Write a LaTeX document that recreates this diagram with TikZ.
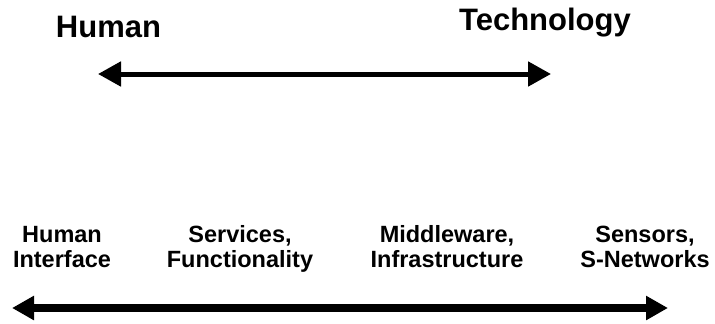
\documentclass[tikz,border=0pt]{standalone}
\usepackage{fontspec}
\setmainfont{Liberation Sans}
\usetikzlibrary{arrows.meta}
\begin{document}
\begin{tikzpicture}[x=1pt,y=-1pt,
  biglabel/.style={font=\fontsize{31}{34}\selectfont\bfseries, inner sep=0pt, anchor=base},
  smalllabel/.style={font=\fontsize{23.5}{25}\selectfont\bfseries, inner sep=0pt, align=center, anchor=base},
  toparrow/.style={line width=5pt, {Triangle[length=23pt,width=24pt]}-{Triangle[length=23pt,width=24pt]}},
  botarrow/.style={line width=7.5pt, {Triangle[length=22pt,width=23pt]}-{Triangle[length=22pt,width=23pt]}}]
\useasboundingbox (0,0) rectangle (715,324);
\node[biglabel] (human) at (108.5,37) {Human};
\node[biglabel] (tech) at (545,30) {Technology};
\coordinate (tl) at (98,74);
\coordinate (tr) at (551,74);
\draw[toparrow] (tl) -- (tr);
\node[smalllabel] (hi) at (62,267) {Human\\Interface};
\node[smalllabel] (sf) at (240,267) {Services,\\Functionality};
\node[smalllabel] (mi) at (447,267) {Middleware,\\Infrastructure};
\node[smalllabel] (ss) at (645,267) {Sensors,\\S-Networks};
\coordinate (bl) at (12,308);
\coordinate (br) at (668,308);
\draw[botarrow] (bl) -- (br);
\end{tikzpicture}
\end{document}
